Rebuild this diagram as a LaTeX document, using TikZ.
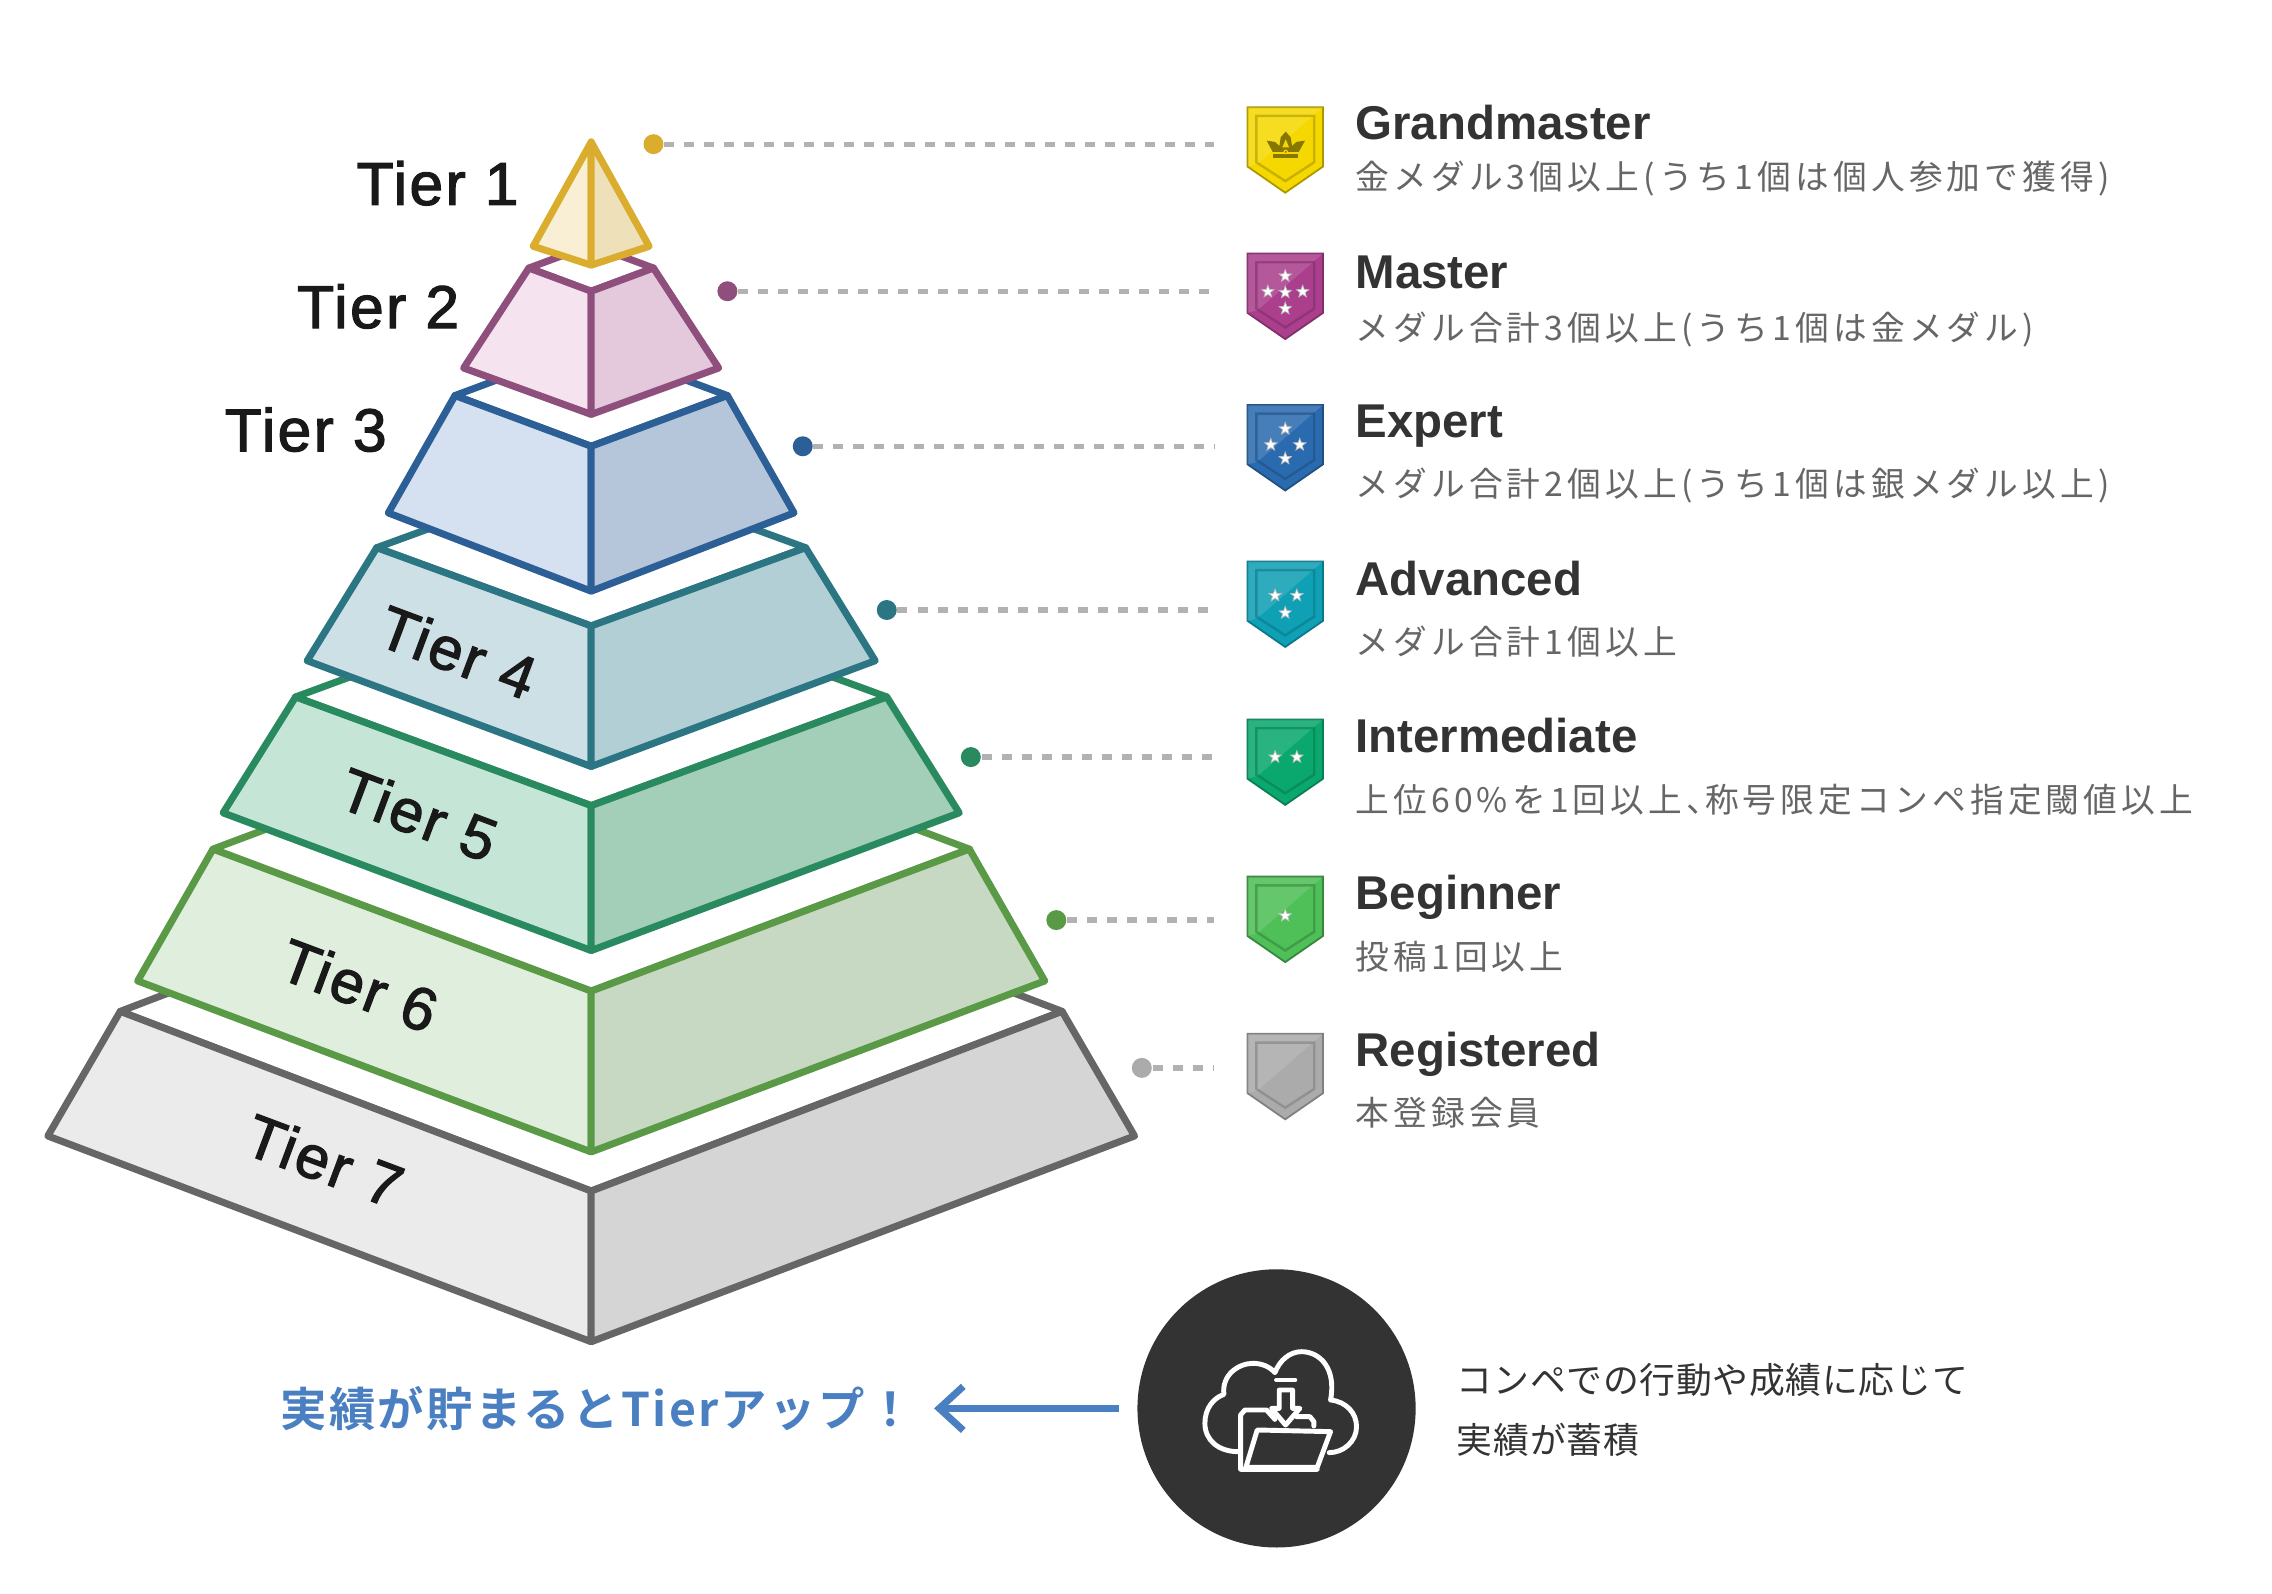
\documentclass[tikz,border=0pt]{standalone}
\usepackage{fontspec}
\usepackage{xcolor}
\usepackage{tikz}
\usetikzlibrary{shapes.geometric, arrows.meta, positioning}

\setmainfont{Liberation Sans}
\newfontfamily\tierfont[FakeBold=2,LetterSpace=4]{Liberation Sans}
\newfontfamily\subfont[LetterSpace=12.3]{Noto Sans CJK JP}
\newfontfamily\noteblack[LetterSpace=2]{Noto Sans CJK JP}
\newfontfamily\cheerfont[LetterSpace=5]{Noto Sans CJK JP Bold}

\definecolor{goldline}{HTML}{DBAD2E}
\definecolor{purpline}{HTML}{8F4F7D}
\definecolor{blueline}{HTML}{2B5F96}
\definecolor{tealline}{HTML}{2C7683}
\definecolor{greenline}{HTML}{2A8A5F}
\definecolor{leafline}{HTML}{5A9A47}
\definecolor{grayline}{HTML}{666666}
\definecolor{cheerblue}{HTML}{4A7FC1}

\definecolor{goldleft}{HTML}{F9EFD5}
\definecolor{goldright}{HTML}{EEE0B9}
\definecolor{purpleft}{HTML}{F5E3EF}
\definecolor{purpright}{HTML}{E4C9DC}
\definecolor{blueleft}{HTML}{D5E0F0}
\definecolor{blueright}{HTML}{B6C6DA}
\definecolor{tealleft}{HTML}{CCE0E6}
\definecolor{tealright}{HTML}{B2CFD6}
\definecolor{greenleft}{HTML}{C5E6D7}
\definecolor{greenright}{HTML}{A3CFB8}
\definecolor{leafleft}{HTML}{E0EEDD}
\definecolor{leafright}{HTML}{C7D8C3}
\definecolor{grayleft}{HTML}{EBEBEB}
\definecolor{grayright}{HTML}{D5D5D5}

\definecolor{bgold}{HTML}{F5D800}
\definecolor{bpurp}{HTML}{AB3F8D}
\definecolor{bblue}{HTML}{2A6BAF}
\definecolor{bteal}{HTML}{0FA0B5}
\definecolor{bgreen}{HTML}{0AA86E}
\definecolor{bleaf}{HTML}{4FBF57}
\definecolor{bgray}{HTML}{ABABAB}

% one slab: colour, two face fills, top y, top half width, front y, side y, side half width, low y
\newcommand{\pyramidtier}[9]{
    \draw[tierline, draw=#1, fill=white] (408-#5, #4) -- (408, 2*#4-#6) -- (408+#5, #4) -- (408, #6) -- cycle;
    \draw[tierline, draw=#1, fill=#2] (408-#5, #4) -- (408, #6) -- (408, #9) -- (408-#8, #7) -- cycle;
    \draw[tierline, draw=#1, fill=#3] (408+#5, #4) -- (408, #6) -- (408, #9) -- (408+#8, #7) -- cycle;
}

% one shield: top y, fill, rim
\newcommand{\badgeshield}[3]{
    \begin{scope}[shift={(887, #1)}]
        \draw[draw=#3, fill=#2, line width=.5pt] (-26, 0) -- (26, 0) -- (26, 41) -- (0, 59) -- (-26, 41) -- cycle;
        \fill[white, opacity=.13] (-26, 0) -- (26, 0) -- (-19, 39) -- (-26, 41) -- cycle;
        \draw[draw=#3, opacity=.6, line width=.7pt] (-20, 6) -- (20, 6) -- (20, 38) -- (0, 51) -- (-20, 38) -- cycle;
    \end{scope}
}

\begin{document}
\begin{tikzpicture}[
    x=0.01449cm, y=-0.01449cm,
    tierline/.style = {line width=2pt, line join=round},
    tierlabel/.style = {inner sep=0, font=\tierfont\fontsize{17.2}{20}\selectfont, text=black!90},
    rankname/.style = {anchor=base west, inner sep=0, font=\bfseries\fontsize{13.5}{16}\selectfont, text=black!80},
    ranknote/.style = {anchor=base west, inner sep=0, font=\subfont\fontsize{9.6}{12}\selectfont, text=black!60},
    rankdot/.style = {circle, inner sep=0, minimum size=0.2cm},
    leader/.style = {line width=1.5pt, draw=black!30, dash pattern=on 2.85pt off 2.85pt},
    starmark/.style = {star, star points=5, star point ratio=2.4, fill=white, draw=black!25, line width=.2pt, inner sep=0, minimum size=0.13cm}
]
\useasboundingbox (0, 0) rectangle (1568, 1100);

% pyramid, from the base up
\pyramidtier{grayline}{grayleft}{grayright}{698}{325}{822}{784}{375}{926}
\pyramidtier{leafline}{leafleft}{leafright}{586}{261}{684}{677}{313}{795}
\pyramidtier{greenline}{greenleft}{greenright}{481}{204}{556}{561}{254}{656}
\pyramidtier{tealline}{tealleft}{tealright}{378}{148}{432}{456}{196}{529}
\pyramidtier{blueline}{blueleft}{blueright}{273}{94}{308}{354}{140}{408}
\pyramidtier{purpline}{purpleft}{purpright}{185}{43}{201}{254}{88}{286}

\draw[tierline, draw=goldline, fill=goldleft] (408, 98) -- (368, 170) -- (408, 183) -- cycle;
\draw[tierline, draw=goldline, fill=goldright] (408, 98) -- (448, 170) -- (408, 183) -- cycle;

% tier names
\node [tierlabel] (t1) at (302, 126.5) {Tier 1};
\node [tierlabel] (t2) at (261, 211.5) {Tier 2};
\node [tierlabel] (t3) at (211, 296.5) {Tier 3};
\node [tierlabel, rotate=-20.5] (t4) at (316, 450) {Tier 4};
\node [tierlabel, rotate=-20.5] (t5) at (289, 562) {Tier 5};
\node [tierlabel, rotate=-20.5] (t6) at (248, 680) {Tier 6};
\node [tierlabel, rotate=-20.5] (t7) at (224, 801) {Tier 7};

% leaders
\node [rankdot, fill=goldline] (d1) at (451, 99.5) {};
\node [rankdot, fill=purpline] (d2) at (502, 201) {};
\node [rankdot, fill=blueline] (d3) at (554, 308) {};
\node [rankdot, fill=tealline] (d4) at (612, 421) {};
\node [rankdot, fill=greenline] (d5) at (670, 522.5) {};
\node [rankdot, fill=leafline] (d6) at (729, 635) {};
\node [rankdot, fill=black!33] (d7) at (788, 737) {};

\coordinate (e1) at (838, 99.5);
\coordinate (e2) at (838, 201);
\coordinate (e3) at (838, 308);
\coordinate (e4) at (838, 421);
\coordinate (e5) at (838, 522.5);
\coordinate (e6) at (838, 635);
\coordinate (e7) at (838, 737);

\draw[leader] (d1) -- (e1);
\draw[leader] (d2) -- (e2);
\draw[leader] (d3) -- (e3);
\draw[leader] (d4) -- (e4);
\draw[leader] (d5) -- (e5);
\draw[leader] (d6) -- (e6);
\draw[leader] (d7) -- (e7);

% shields
\badgeshield{74}{bgold}{bgold!70!black}
\badgeshield{175}{bpurp}{bpurp!75!black}
\badgeshield{279.5}{bblue}{bblue!75!black}
\badgeshield{387.5}{bteal}{bteal!75!black}
\badgeshield{496.5}{bgreen}{bgreen!75!black}
\badgeshield{605}{bleaf}{bleaf!70!black}
\badgeshield{713.5}{bgray}{bgray!75!black}

% crown
\begin{scope}[shift={(842, 62.1)}, scale=0.23]
    \fill[bgold!55!black] (158, 192) -- (235, 192) -- (235, 205) -- (158, 205) -- cycle;
    \fill[bgold!55!black] (158, 186) -- (140, 152) -- (165, 156) -- (178, 168) -- (182, 142) -- (197, 125) -- (212, 142) -- (216, 168) -- (229, 156) -- (255, 152) -- (236, 186) -- cycle;
    \fill[bgold] (187, 172) -- (197, 148) -- (207, 172) -- cycle;
    \fill[bgold] (197, 186) circle (7);
    \fill[bgold!55!black] (197, 186) circle (3);
\end{scope}

% stars
\foreach \px/\py [count=\i] in {887/190.5, 875/201.3, 887/201.8, 899/201.3, 887/213}
    \node [starmark] (sm\i) at (\px, \py) {};
\foreach \px/\py [count=\i] in {887/296, 877/307, 897/307, 887/316.5}
    \node [starmark] (se\i) at (\px, \py) {};
\foreach \px/\py [count=\i] in {880/411, 895/411, 887/423}
    \node [starmark] (sa\i) at (\px, \py) {};
\node [starmark] (si1) at (880, 522.5) {};
\node [starmark] (si2) at (895, 522.5) {};
\node [starmark] (sb1) at (887, 632) {};

% rank texts
\node [rankname] (r1) at (935, 96) {Grandmaster};
\node [ranknote] (n1) at (935, 131) {金メダル3個以上(うち1個は個人参加で獲得)};
\node [rankname] (r2) at (935, 199) {Master};
\node [ranknote] (n2) at (935, 235) {メダル合計3個以上(うち1個は金メダル)};
\node [rankname] (r3) at (935, 302) {Expert};
\node [ranknote] (n3) at (935, 343) {メダル合計2個以上(うち1個は銀メダル以上)};
\node [rankname] (r4) at (935, 411) {Advanced};
\node [ranknote] (n4) at (935, 452) {メダル合計1個以上};
\node [rankname] (r5) at (935, 519) {Intermediate};
\node [ranknote] (n5) at (935, 561) {上位60\%を1回以上、\hspace{-.45em}称号限定コンペ指定閾値以上};
\node [rankname] (r6) at (935, 628) {Beginner};
\node [ranknote] (n6) at (935, 669) {投稿1回以上};
\node [rankname] (r7) at (935, 736) {Registered};
\node [ranknote] (n7) at (935, 777) {本登録会員};

% bottom row
\node [circle, fill=black!80, inner sep=0, minimum size=192*0.01449cm] (hub) at (881, 972) {};
\begin{scope}[shift={(772.9, 869.6)}, scale=0.23, white, line width=1.4pt, line join=round, line cap=round]
    \draw (355, 575) .. controls (295, 575) and (255, 540) .. (255, 490) .. controls (255, 445) and (280, 415) .. (312, 403)
        .. controls (305, 345) and (355, 310) .. (400, 310) .. controls (425, 310) and (450, 320) .. (465, 338)
        .. controls (480, 300) and (510, 275) .. (545, 275) .. controls (600, 275) and (650, 325) .. (632, 420)
        .. controls (680, 425) and (710, 460) .. (710, 500) .. controls (710, 545) and (670, 578) .. (628, 578);
    \draw (592, 628) -- (362, 628) -- (362, 465) -- (375, 450) -- (440, 450) -- (465, 478);
    \draw (530, 470) -- (570, 470) -- (582, 485) -- (582, 498);
    \draw (412, 510) -- (632, 515) -- (592, 622) -- (378, 622) -- cycle;
    \draw (470, 360) -- (525, 360);
    \draw (455, 445) -- (478, 445) -- (478, 390) -- (518, 390) -- (518, 445) -- (540, 445) -- (497, 495) -- cycle;
\end{scope}

\node [inner sep=0, font=\cheerfont\fontsize{13.2}{16}\selectfont, text=cheerblue] (cheer) at (412, 972) {実績が貯まるとTierアップ！};
\draw[-{Straight Barb[length=2.4mm,width=4.4mm]}, line width=2pt, draw=cheerblue, shorten <=0.18cm, shorten >=0.2cm] (hub) -- (cheer);
\node [anchor=west, inner sep=0, align=left, font=\noteblack\fontsize{10.2}{17}\selectfont, text=black!80] (note) at (1005, 973) {コンペでの行動や成績に応じて\\実績が蓄積};

\end{tikzpicture}
\end{document}
